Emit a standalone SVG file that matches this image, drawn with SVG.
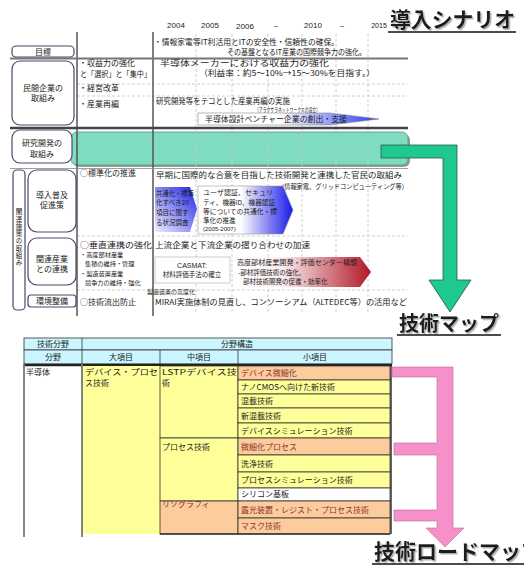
<svg xmlns="http://www.w3.org/2000/svg" width="524" height="566" viewBox="0 0 524 566">
<defs>
<style>
text{font-family:'Noto Sans CJK JP','Noto Sans',sans-serif;fill:#1a1a1a}
.t{font-size:8px}
.s{font-size:6.5px}
.c{text-anchor:middle}
.lat{font-family:'Liberation Sans',Arial,sans-serif;font-size:8px}
.title{font-size:21px;font-weight:bold;filter:url(#shadow)}
.box{fill:#fff;stroke:#4a4a6a;stroke-width:1.2}
.sep{stroke:#555;stroke-width:1.5}
.dash{stroke:#c4c4c4;stroke-width:0.8;stroke-dasharray:3 2;fill:none}
.cell{stroke:#333;stroke-width:0.8}
.y{fill:#ffff99}
.p{fill:#fccc9c}
.w{fill:#ffffff}
.hd{fill:#ccf6ff}
.pt{fill:#8a3030}
</style>
<filter id="shadow" x="-5%" y="-20%" width="115%" height="150%"><feDropShadow dx="1.5" dy="1.5" stdDeviation="0.6" flood-color="#999" flood-opacity="0.8"/></filter>
<linearGradient id="gBlueA" x1="0" y1="0" x2="1" y2="0"><stop offset="0" stop-color="#ffffff"/><stop offset="0.45" stop-color="#ffffff"/><stop offset="1" stop-color="#2a3cf0"/></linearGradient>
<linearGradient id="gBlue1" x1="0" y1="1" x2="1" y2="0"><stop offset="0" stop-color="#eeeeff"/><stop offset="0.5" stop-color="#8a8af2"/><stop offset="1" stop-color="#1e1ee8"/></linearGradient>
<linearGradient id="gBlue2" x1="0" y1="0" x2="1" y2="0"><stop offset="0" stop-color="#ffffff"/><stop offset="0.45" stop-color="#ffffff"/><stop offset="1" stop-color="#1818e8"/></linearGradient>
<linearGradient id="gRed" x1="0" y1="0" x2="1" y2="0"><stop offset="0" stop-color="#ffffff"/><stop offset="0.35" stop-color="#fbeef0"/><stop offset="1" stop-color="#b01828"/></linearGradient>
</defs>
<rect x="0" y="0" width="524" height="566" fill="#ffffff"/>

<!-- titles -->
<g id="title-scenario">
<text x="390" y="27" class="title" textLength="125" lengthAdjust="spacingAndGlyphs">導入シナリオ</text>
<line x1="388" y1="32" x2="516" y2="32" stroke="#111" stroke-width="1.5"/>
</g>

<!-- years -->
<g id="years">
<text x="176" y="28" class="lat c">2004</text>
<text x="210" y="28" class="lat c">2005</text>
<text x="245" y="29" class="lat c">2006</text>
<text x="276" y="29" class="lat c">~</text>
<text x="313" y="28" class="lat c">2010</text>
<text x="342" y="29" class="lat c">~</text>
<text x="379" y="28" class="lat c" style="font-size:7px">2015</text>
</g>

<!-- teal band (research) -->
<g id="research-band">
<rect x="73" y="134" width="337" height="33" rx="6" fill="#9a9a9a"/>
<rect x="71" y="132" width="337" height="33" rx="6" fill="#80dcc0" stroke="#4a9a80" stroke-width="0.8"/>
</g>

<!-- grid -->
<g id="grid">
<line x1="196" y1="34" x2="196" y2="312" class="dash"/>
<line x1="232" y1="34" x2="232" y2="312" class="dash"/>
<line x1="268" y1="34" x2="268" y2="312" class="dash"/>
<line x1="302" y1="34" x2="302" y2="312" class="dash"/>
<line x1="336" y1="34" x2="336" y2="312" class="dash"/>
<line x1="368" y1="34" x2="368" y2="312" class="dash"/>
<line x1="77" y1="84" x2="408" y2="84" class="dash"/>
<line x1="77" y1="96" x2="408" y2="96" class="dash"/>
<line x1="77" y1="236" x2="408" y2="236" class="dash"/>
<line x1="77" y1="290" x2="408" y2="290" class="dash"/>
</g>

<!-- frame lines -->
<g id="frame">
<line x1="77" y1="32" x2="77" y2="316" class="sep"/>
<line x1="153" y1="32" x2="153" y2="316" class="sep"/>
<line x1="10" y1="58.5" x2="408" y2="58.5" stroke="#777" stroke-width="1.8"/>
<line x1="10" y1="128" x2="408" y2="128" stroke="#444" stroke-width="2.5"/>
<line x1="10" y1="168.5" x2="408" y2="168.5" stroke="#888" stroke-width="0.8"/>
</g>

<!-- goal row -->
<g id="goal">
<rect x="12" y="46" width="62" height="11" rx="4" class="box"/>
<text x="43" y="55" class="t c">目標</text>
<text x="154" y="45" class="t" textLength="185" lengthAdjust="spacingAndGlyphs">・情報家電等IT利活用とITの安全性・信頼性の確保。</text>
<text x="227" y="55" class="t" textLength="139" lengthAdjust="spacingAndGlyphs">その基盤となるIT産業の国際競争力の強化。</text>
</g>

<!-- private sector row -->
<g id="private">
<rect x="12" y="61" width="62" height="64" rx="8" class="box"/>
<text x="43" y="91" class="t c">民間企業の</text>
<text x="43" y="101" class="t c">取組み</text>
<text x="79" y="66" class="t">・収益力の強化</text>
<text x="80" y="77" class="t" textLength="71" lengthAdjust="spacingAndGlyphs">と「選択」と「集中」</text>
<text x="79" y="91" class="t">・経営改革</text>
<text x="79" y="107" class="t">・産業再編</text>
<text x="160" y="66" class="t" textLength="169" lengthAdjust="spacingAndGlyphs">半導体メーカーにおける収益力の強化</text>
<text x="199" y="76" class="t" textLength="176" lengthAdjust="spacingAndGlyphs">（利益率：約5～10%→15～30%を目指す。）</text>
<text x="156" y="104" class="t" textLength="134" lengthAdjust="spacingAndGlyphs">研究開発等をテコとした産業再編の実施</text>
<text x="255" y="111.5" class="t" style="font-size:5.5px" textLength="65" lengthAdjust="spacingAndGlyphs">（アラクサラネットワークスの設立）</text>
<polygon points="198,113 330,113 379,119 330,125 198,125" fill="url(#gBlueA)" stroke="#888" stroke-width="0.6"/>
<text x="205" y="122" class="t" textLength="142" lengthAdjust="spacingAndGlyphs">半導体設計ベンチャー企業の創出・支援</text>
</g>

<!-- research row -->
<g id="research">
<rect x="12" y="130" width="60" height="33" rx="8" class="box"/>
<text x="42" y="146" class="t c">研究開発の</text>
<text x="42" y="157" class="t c">取組み</text>
</g>

<!-- related measures -->
<g id="related">
<rect x="13" y="170" width="12" height="140" rx="4" class="box"/>
<text x="19" y="208" class="s" style="writing-mode:vertical-rl;text-orientation:upright" textLength="58" lengthAdjust="spacingAndGlyphs">関連施策の取組み</text>
</g>

<g id="promotion">
<rect x="28" y="170" width="48" height="62" rx="9" class="box"/>
<text x="52" y="198" class="t c">導入普及</text>
<text x="52" y="208" class="t c">促進策</text>
<text x="80" y="176" class="t">○標準化の推進</text>
<text x="156" y="178" class="t" textLength="246" lengthAdjust="spacingAndGlyphs">早期に国際的な合意を目指した技術開発と連携した官民の取組み</text>
<text x="278" y="189" class="s" textLength="130" lengthAdjust="spacingAndGlyphs">（情報家電、グリッドコンピューティング等）</text>
<polygon points="155,187 190,187 197,209 190,232 155,232" fill="url(#gBlue1)"/>
<text x="156" y="196" class="s" textLength="38" lengthAdjust="spacingAndGlyphs">共通化・標準</text>
<text x="156" y="205" class="s">化すべき20</text>
<text x="156" y="215" class="s">項目に関す</text>
<text x="156" y="225" class="s">る状況調査</text>
<polygon points="198,186 283,186 293,210 283,234 198,234" fill="url(#gBlue2)" stroke="#999" stroke-width="0.6"/>
<text x="203" y="195" class="s" textLength="70" lengthAdjust="spacingAndGlyphs">ユーザ認証、セキュリ</text>
<text x="203" y="205" class="s" textLength="72" lengthAdjust="spacingAndGlyphs">ティ、機器ID、機器認証</text>
<text x="203" y="214" class="s" textLength="74" lengthAdjust="spacingAndGlyphs">等についての共通化・標</text>
<text x="203" y="223" class="s">準化の推進</text>
<text x="203" y="231" class="s lat" style="font-size:6px">(2005-2007)</text>
</g>

<g id="industry-link">
<rect x="28" y="238" width="48" height="47" rx="9" class="box"/>
<text x="52" y="262" class="t c">関連産業</text>
<text x="52" y="272" class="t c">との連携</text>
<text x="80" y="248" class="t" textLength="72" lengthAdjust="spacingAndGlyphs">○垂直連携の強化</text>
<text x="80" y="256.5" class="s" style="font-size:6.2px">・高度部材産業</text>
<text x="85" y="265.5" class="s" style="font-size:6.2px">集積の維持・管理</text>
<text x="80" y="276" class="s" style="font-size:6.2px">・製造装置産業</text>
<text x="85" y="285" class="s" style="font-size:6.2px">競争力の維持・強化</text>
<text x="147" y="294" class="s" style="font-size:6px">製造装置の高度化</text>
<text x="155" y="248" class="t" textLength="155" lengthAdjust="spacingAndGlyphs">上流企業と下流企業の摺り合わせの加速</text>
<rect x="155" y="257" width="75" height="26" fill="#fff" stroke="#aaa" stroke-width="0.6"/>
<text x="192" y="268" class="lat c" style="font-size:7px">CASMAT:</text>
<text x="192" y="277" class="s c">材料評価手法の確立</text>
<polygon points="233,257 360,257 371,272 360,287 233,287" fill="url(#gRed)"/>
<text x="237" y="265" class="s" textLength="120" lengthAdjust="spacingAndGlyphs">高度部材産業開発・評価センター構想</text>
<text x="238" y="275" class="s">-部材評価技術の強化、</text>
<text x="243" y="284" class="s">部材技術開発の促進・効率化</text>
</g>

<g id="environment">
<rect x="28" y="295" width="48" height="12" rx="3" class="box"/>
<text x="52" y="304" class="t c">環境整備</text>
<text x="80" y="305" class="t">○技術流出防止</text>
<text x="155" y="305" class="t" textLength="252" lengthAdjust="spacingAndGlyphs">MIRAI実施体制の見直し、コンソーシアム（ALTEDEC等）の活用など</text>
</g>

<!-- tech map title -->
<g id="title-techmap">
<text x="399" y="331" class="title" style="font-size:20px" textLength="100" lengthAdjust="spacingAndGlyphs">技術マップ</text>
<line x1="397" y1="335" x2="501" y2="335" stroke="#111" stroke-width="1.5"/>
</g>

<!-- table -->
<g id="table">
<rect x="24" y="338" width="368" height="12" class="hd cell"/>
<line x1="82" y1="338" x2="82" y2="350" class="cell"/>
<text x="53" y="347" class="t c">技術分野</text>
<text x="237" y="347" class="t c">分野構造</text>
<rect x="24" y="350" width="368" height="14" class="hd cell"/>
<line x1="82" y1="350" x2="82" y2="364" class="cell"/>
<line x1="160" y1="350" x2="160" y2="364" class="cell"/>
<line x1="238" y1="350" x2="238" y2="364" class="cell"/>
<text x="53" y="360" class="t c">分野</text>
<text x="121" y="360" class="t c">大項目</text>
<text x="199" y="360" class="t c">中項目</text>
<text x="315" y="360" class="t c">小項目</text>
<line x1="24" y1="365" x2="392" y2="365" stroke="#222" stroke-width="2.5"/>

<rect x="82" y="366" width="78" height="168" class="y"/>
<text x="26" y="375" class="t">半導体</text>
<text x="85" y="375" class="t" textLength="73" lengthAdjust="spacingAndGlyphs">デバイス・プロセ</text>
<text x="85" y="386" class="t">ス技術</text>

<rect x="160" y="366" width="78" height="72" class="y cell"/>
<text x="162" y="375" class="t" textLength="75" lengthAdjust="spacingAndGlyphs">LSTPデバイス技</text>
<text x="162" y="386" class="t">術</text>
<rect x="160" y="438" width="78" height="63" class="y cell"/>
<text x="162" y="450" class="t">プロセス技術</text>
<rect x="160" y="501" width="78" height="33" class="p cell"/>
<text x="162" y="507" class="t pt">リソグラフィ</text>

<rect x="238" y="366" width="152" height="14" class="p cell"/>
<text x="241" y="376" class="t pt">デバイス微細化</text>
<rect x="238" y="380" width="152" height="14" class="y cell"/>
<text x="241" y="390" class="t">ナノCMOSへ向けた新技術</text>
<rect x="238" y="394" width="152" height="14" class="y cell"/>
<text x="241" y="404" class="t">混載技術</text>
<rect x="238" y="408" width="152" height="15" class="y cell"/>
<text x="241" y="419" class="t">新混載技術</text>
<rect x="238" y="423" width="152" height="15" class="y cell"/>
<text x="241" y="434" class="t">デバイスシミュレーション技術</text>
<rect x="238" y="438" width="152" height="17" class="p cell"/>
<text x="241" y="450" class="t pt">微細化プロセス</text>
<rect x="238" y="455" width="152" height="17" class="y cell"/>
<text x="241" y="467" class="t">洗浄技術</text>
<rect x="238" y="472" width="152" height="16" class="y cell"/>
<text x="241" y="483" class="t">プロセスシミュレーション技術</text>
<rect x="238" y="488" width="152" height="13" class="w cell"/>
<text x="241" y="497" class="t">シリコン基板</text>
<rect x="238" y="501" width="152" height="17" class="p cell"/>
<text x="241" y="513" class="t pt">露光装置・レジスト・プロセス技術</text>
<rect x="238" y="518" width="152" height="16" class="p cell"/>
<text x="241" y="529" class="t pt">マスク技術</text>

<line x1="24" y1="364" x2="24" y2="537" stroke="#777" stroke-width="1.8"/>
<line x1="82" y1="364" x2="82" y2="537" stroke="#777" stroke-width="1.8"/>
<line x1="160" y1="534" x2="390" y2="534" stroke="#333" stroke-width="1.5"/>
<line x1="391" y1="366" x2="391" y2="534" stroke="#333" stroke-width="1.5"/>
</g>

<!-- roadmap title -->
<g id="title-roadmap">
<text x="374" y="559" class="title">技術ロードマップ</text>
<line x1="372" y1="564" x2="524" y2="564" stroke="#111" stroke-width="1.5"/>
</g>

<!-- connectors -->
<g id="connectors">
<polygon points="381,145 457,145 457,280 471,280 450,312 429,280 443,280 443,158 381,158" fill="#1ec88e" stroke="#2a5a48" stroke-width="0.8"/>
<polygon points="392,367 453,367 453,528 464,528 445,547 426,528 437,528 437,521 394,521 394,510 437,510 437,455 394,455 394,443 437,443 437,377 392,377" fill="#f590c8" stroke="#c06a9a" stroke-width="0.6"/>
</g>
</svg>
